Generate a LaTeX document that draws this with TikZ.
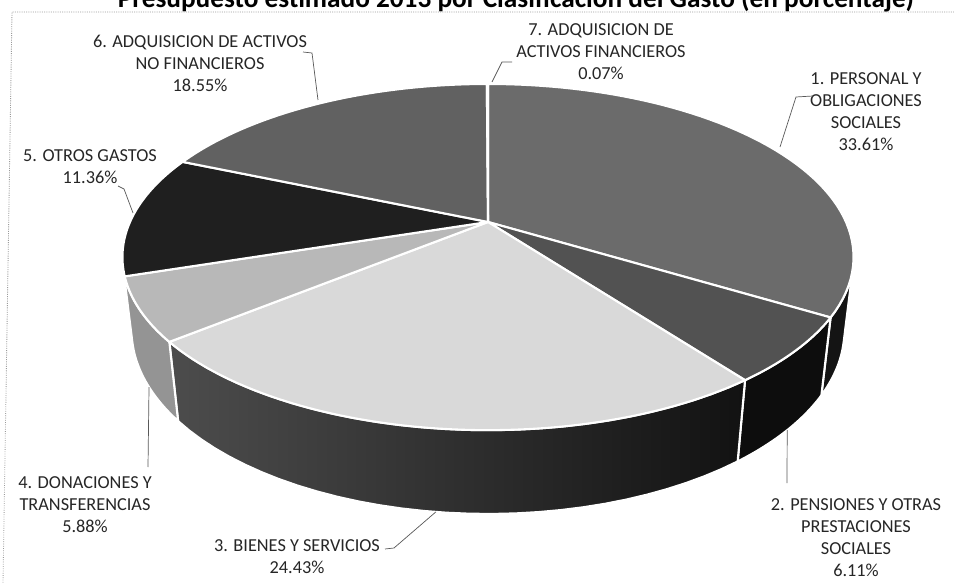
\documentclass[tikz,border=0pt]{standalone}
\usepackage{fontspec}
\setmainfont{Carlito}
\usepackage{xcolor}
\usepackage{tikz}

\tikzset{
  declare function={
    pieden(\a,\z)=1+0.2026*cos(\a)+0.106*\z;
    piex(\a,\z)=488+358*sin(\a)/pieden(\a,\z);
    piey(\a,\z)=222-(166*cos(\a)-317.2*\z)/pieden(\a,\z);
  },
  lab/.style={align=center,inner sep=0pt,text=black!85,font=\fontsize{13}{15.6}\selectfont},
  leader/.style={black!65,line width=0.5pt},
  sep/.style={draw=white,line width=1.5pt,line join=round},
}
\newcommand{\slicetop}[3]{\fill[sep,#3] (488,222) -- plot[domain=#1:#2,samples=60] ({piex(\x,0)},{piey(\x,0)}) -- cycle;}
\newcommand{\sliceside}[3]{\path[sep,#3] plot[domain=#1:#2,samples=30] ({piex(\x,0)},{piey(\x,0)}) -- plot[domain=#1:#2,samples=30] ({piex(#1+#2-\x,0.2334)},{piey(#1+#2-\x,0.2334)}) -- cycle;}

\begin{document}
\begin{tikzpicture}[x=0.025cm,y=-0.025cm]
\useasboundingbox (0,0) rectangle (954,583);
\fill[white] (0,0) rectangle (954,583);

\node[anchor=base,font=\bfseries\fontsize{19.4}{22}\selectfont] (title) at (516,8) {Presupuesto estimado 2013 por Clasificación del Gasto (en porcentaje)};
\draw[black!40,densely dotted,line width=0.6pt] (954,12) -- (12,12) -- (3,583);

\sliceside{105}{121}{fill=black!92}
\sliceside{121}{143}{fill=black!95}
\sliceside{143}{230.94}{left color=black!70,right color=black!93}
\sliceside{230.94}{255}{fill=black!42}

\slicetop{0}{121}{fill=black!58}
\slicetop{121}{143}{fill=black!68}
\slicetop{143}{230.94}{fill=black!15}
\slicetop{230.94}{252.11}{fill=black!28}
\slicetop{252.11}{293}{fill=black!88}
\slicetop{293}{359.78}{fill=black!62}
\slicetop{359.78}{360}{fill=black!40}

\node[lab] (lab1) at (866,112) {1. PERSONAL Y\\OBLIGACIONES\\SOCIALES\\33.61\%};
\node[lab] (lab2) at (856,538) {2. PENSIONES Y OTRAS\\PRESTACIONES\\SOCIALES\\6.11\%};
\node[lab] (lab3) at (297,557) {3. BIENES Y SERVICIOS\\24.43\%};
\node[lab] (lab4) at (85,505) {4. DONACIONES Y\\TRANSFERENCIAS\\5.88\%};
\node[lab] (lab5) at (90,167) {5. OTROS GASTOS\\11.36\%};
\node[lab] (lab6) at (200,63) {6. ADQUISICION DE ACTIVOS\\NO FINANCIEROS\\18.55\%};
\node[lab] (lab7) at (601,51.5) {7. ADQUISICION DE\\ACTIVOS FINANCIEROS\\0.07\%};

\coordinate (in1) at (813,96);
\coordinate (in2) at (787,483);
\coordinate (in3) at (385,549);
\coordinate (in4) at (148,467);
\coordinate (in5) at (118,186);
\coordinate (in6) at (303,52);
\coordinate (in7) at (512,62);
\coordinate (tip1) at (780,147);
\coordinate (tip2) at ({piex(132,0.2334)},{piey(132,0.2334)});
\coordinate (tip3) at ({piex(186.9,0.2334)},{piey(186.9,0.2334)});
\coordinate (tip4) at ({piex(241.5,0.2334)},{piey(241.5,0.2334)});
\coordinate (tip5) at (133,213);
\coordinate (tip6) at (318,100);
\coordinate (tip7) at (492,82);

\draw[leader] (in1) -- ++(-17,1) -- (tip1);
\draw[leader] (in2) -- (tip2);
\draw[leader] (in3) -- ++(9,-1) -- (tip3);
\draw[leader] (in4) -- (tip4);
\draw[leader] (in5) -- ++(6,3) -- (tip5);
\draw[leader] (in6) -- ++(9,1) -- (tip6);
\draw[leader] (in7) -- ++(-10,0) -- (tip7);

\end{tikzpicture}
\end{document}
